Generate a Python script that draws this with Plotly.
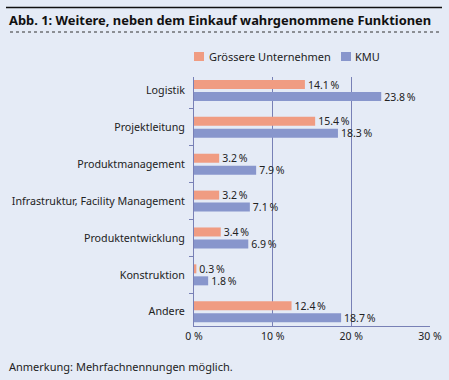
import plotly.graph_objects as go

categories = ["Logistik", "Projektleitung", "Produktmanagement",
              "Infrastruktur, Facility Management", "Produktentwicklung",
              "Konstruktion", "Andere"]
grosse = [14.1, 15.4, 3.2, 3.2, 3.4, 0.3, 12.4]
kmu = [23.8, 18.3, 7.9, 7.1, 6.9, 1.8, 18.7]
series_names = ["Grössere Unternehmen", "KMU"]
series_colors = ["#F09C82", "#8896CC"]
x_ticks = [0, 10, 20, 30]
x_ticklabels = ["0 %", "10 %", "20 %", "30 %"]

W, H = 449, 380
L, R, T, B = 194, 430, 77, 326
BG = "#E5EBF6"
GRID = "#7880B6"
FONT = "Noto Sans"
TXT = "#222222"

def px(x):
    return (x - L) / (R - L)

def py(y):
    return (B - y) / (B - T)

def fmt(v):
    return f"{v:.1f}\u2009%"

fig = go.Figure()
for name, vals, col in zip(series_names, [grosse, kmu], series_colors):
    fig.add_trace(go.Bar(y=categories, x=vals, orientation="h", name=name,
                         marker=dict(color=col, line=dict(width=0)),
                         text=[fmt(v) for v in vals], textposition="outside",
                         constraintext="none",
                         textfont=dict(size=10.5, color=TXT, family=FONT),
                         cliponaxis=False, showlegend=False))

# y range so that group centres sit where the reference draws them
unit = 36.87
y_top = 0 - (90.5 - T) / unit
y_bot = 6 + (B - 311.7) / unit

fig.update_layout(
    width=W, height=H,
    margin=dict(l=L, r=W - R, t=T, b=H - B, pad=0),
    paper_bgcolor=BG, plot_bgcolor=BG,
    font=dict(family=FONT, size=11, color=TXT),
    barmode="group", bargap=0.349, bargroupgap=0.25,
    showlegend=False,
    xaxis=dict(range=[0, 30], tickvals=x_ticks, ticktext=x_ticklabels,
               showgrid=True, gridcolor=GRID, gridwidth=1,
               showline=True, linecolor=GRID, linewidth=1,
               zeroline=False, ticks="", tickfont=dict(size=10.5, color=TXT),
               automargin=False, fixedrange=True),
    yaxis=dict(range=[y_bot, y_top], showline=True, linecolor=GRID, linewidth=1,
               ticks="outside", tickson="boundaries", ticklen=4, tickcolor=GRID,
               showgrid=False, tickfont=dict(size=10.7, color=TXT),
               ticklabelstandoff=6, automargin=False),
    title=dict(text="<b>Abb. 1: Weitere, neben dem Einkauf wahrgenommene Funktionen</b>",
               x=9 / W, xanchor="left", y=1 - 20.5 / H, yanchor="middle",
               font=dict(size=12.9, color="#111111", family=FONT)),
)

# legend drawn by hand to match reference placement
leg_items = [(194, 207, series_names[0], series_colors[0]),
             (341, 353, series_names[1], series_colors[1])]
for sx, tx, name, col in leg_items:
    fig.add_shape(type="rect", xref="paper", yref="paper",
                  x0=px(sx), x1=px(sx + 10), y0=py(61), y1=py(52),
                  fillcolor=col, line=dict(width=0))
    fig.add_annotation(text=name, xref="paper", yref="paper", x=px(tx), y=py(56.5),
                       xanchor="left", yanchor="middle", showarrow=False,
                       font=dict(size=11, color=TXT, family=FONT))

fig.add_shape(type="line", xref="paper", yref="paper",
              x0=px(6), x1=px(442), y0=py(7.5), y1=py(7.5),
              line=dict(color="#111111", width=1.5))
fig.add_shape(type="line", xref="paper", yref="paper",
              x0=px(10), x1=px(440), y0=py(32), y1=py(32),
              line=dict(color="#333333", width=1, dash="dot"))
fig.add_annotation(text="Anmerkung: Mehrfachnennungen möglich.", xref="paper", yref="paper",
                   x=px(7), y=py(366), xanchor="left", yanchor="middle", showarrow=False,
                   font=dict(size=11, color=TXT, family=FONT))

fig.write_html(
    "out.html",
    config={"displayModeBar": False},
    post_script="document.body.style.margin='0';document.body.style.overflow='hidden';"
                "document.body.style.background='" + BG + "';",
)
